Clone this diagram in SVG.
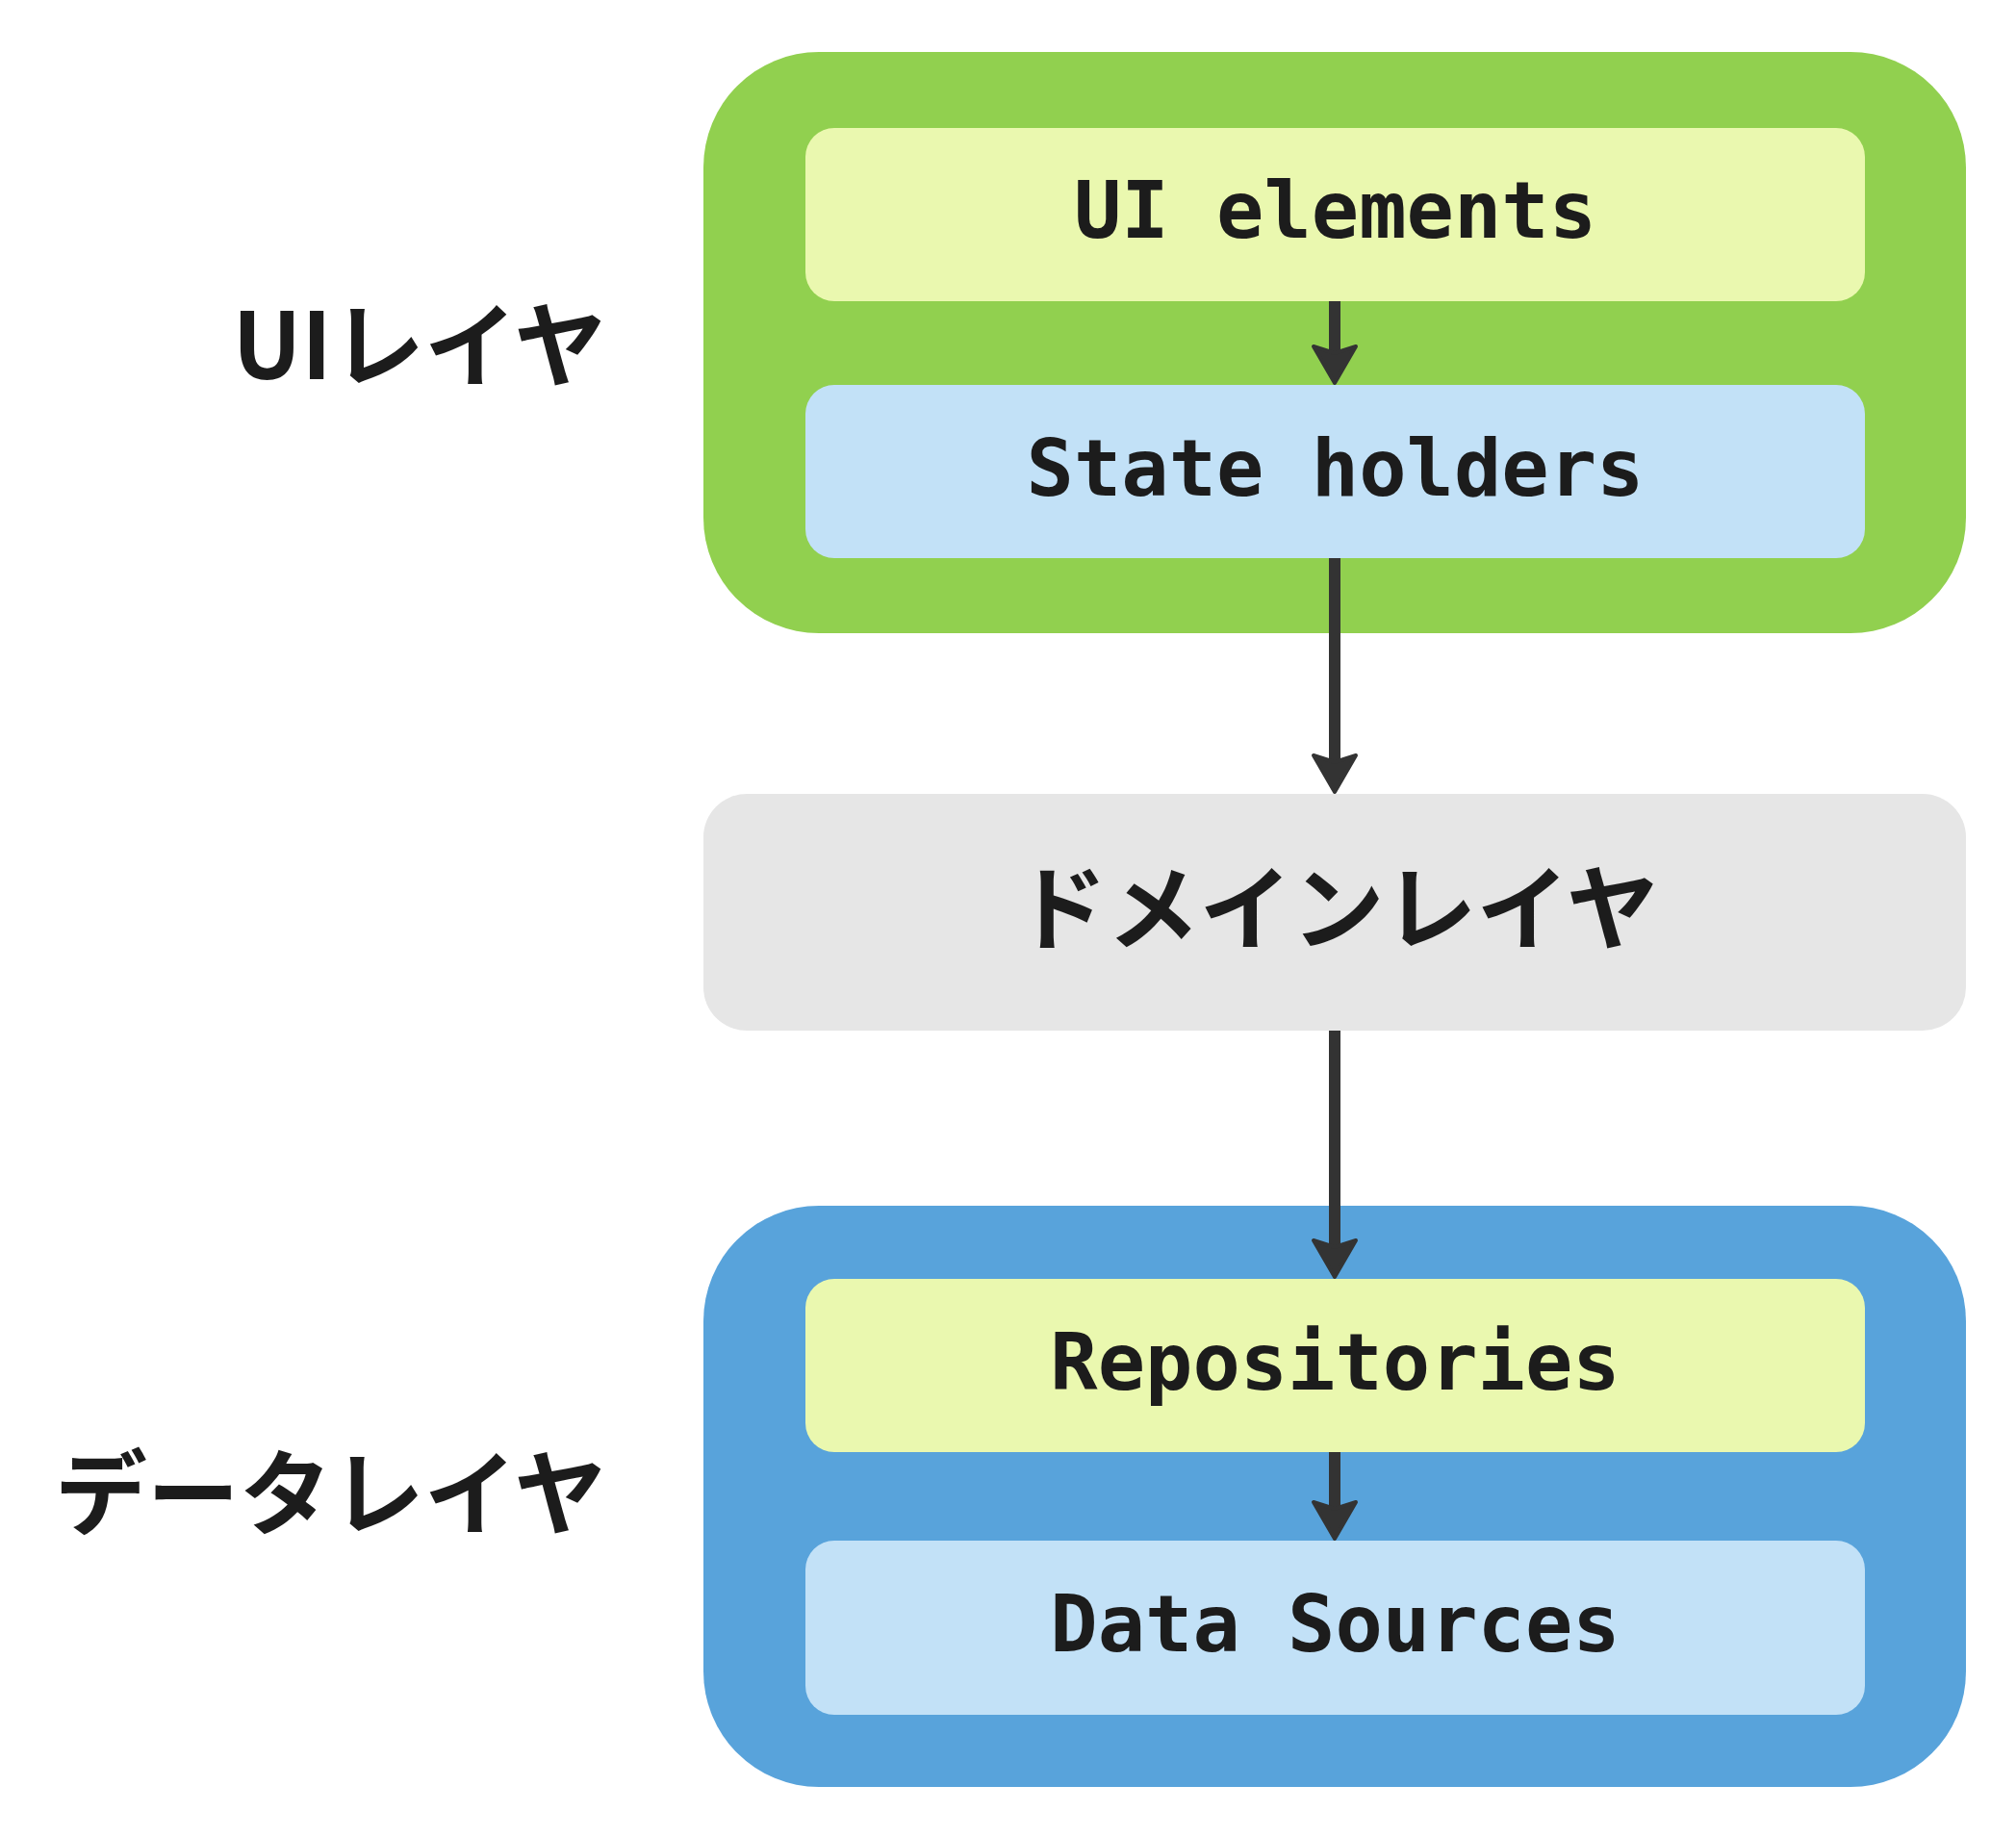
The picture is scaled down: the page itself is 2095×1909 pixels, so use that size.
<svg xmlns="http://www.w3.org/2000/svg" width="2095" height="1909" viewBox="0 0 2095 1909">
<style>
.mono{font-family:"DejaVu Sans Mono","Liberation Mono",monospace;font-weight:700;font-size:82px;fill:#1c1c1c;text-anchor:middle}
.jp{font-family:"Noto Sans CJK JP","Noto Sans",sans-serif;font-weight:700;font-size:96px;fill:#1c1c1c}
.line{stroke:#333333;stroke-width:12;fill:none}
.head{fill:#333333;stroke:#333333;stroke-width:4;stroke-linejoin:round}
</style>
<rect width="2095" height="1909" fill="#ffffff"/>
<g id="ui-layer">
<rect x="731" y="54" width="1312" height="604" rx="120" fill="#91d04f"/>
<text class="jp" x="630" y="394" text-anchor="end">UIレイヤ</text>
</g>
<g id="ui-elements">
<rect x="837" y="133" width="1101" height="180" rx="30" fill="#eaf8af"/>
<text class="mono" x="1387.5" y="247">UI elements</text>
</g>
<g id="state-holders">
<rect x="837" y="400" width="1101" height="180" rx="30" fill="#c2e1f7"/>
<text class="mono" x="1387.5" y="515">State holders</text>
</g>
<g id="domain-layer">
<rect x="731" y="825" width="1312" height="246" rx="45" fill="#e6e6e6"/>
<text class="jp" x="1389" y="979" text-anchor="middle">ドメインレイヤ</text>
</g>
<g id="data-layer">
<rect x="731" y="1253" width="1312" height="604" rx="120" fill="#58a3db"/>
<text class="jp" x="630" y="1587" text-anchor="end">データレイヤ</text>
</g>
<g id="repositories">
<rect x="837" y="1329" width="1101" height="180" rx="30" fill="#eaf8af"/>
<text class="mono" x="1387.5" y="1444">Repositories</text>
</g>
<g id="data-sources">
<rect x="837" y="1601" width="1101" height="181" rx="30" fill="#c2e1f7"/>
<text class="mono" x="1387.5" y="1716">Data Sources</text>
</g>
<g id="connectors">
<path class="line" d="M1387,313 V367"/>
<path class="head" d="M1365,360 L1387,367 L1409,360 L1387,398 Z"/>
<path class="line" d="M1387,580 V792"/>
<path class="head" d="M1365,785 L1387,792 L1409,785 L1387,823 Z"/>
<path class="line" d="M1387,1071 V1296"/>
<path class="head" d="M1365,1289 L1387,1296 L1409,1289 L1387,1327 Z"/>
<path class="line" d="M1387,1509 V1568"/>
<path class="head" d="M1365,1561 L1387,1568 L1409,1561 L1387,1599 Z"/>
</g>
</svg>
